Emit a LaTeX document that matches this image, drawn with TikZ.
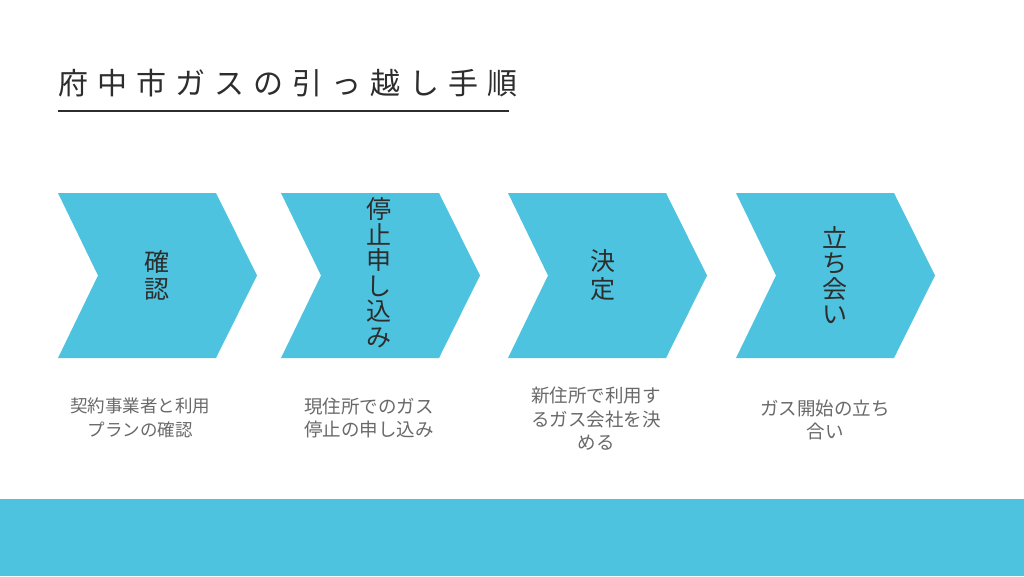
\documentclass[tikz,border=0pt]{standalone}
\usepackage{fontspec}
\newfontfamily\jp{Noto Sans CJK JP}
\newfontfamily\jpt[LetterSpace=30]{Noto Sans CJK JP}
\definecolor{chev}{RGB}{78,195,223}
\definecolor{darktxt}{RGB}{45,45,45}
\definecolor{graytxt}{RGB}{105,105,105}
\begin{document}
\begin{tikzpicture}[x=1pt,y=-1pt,
  chevshape/.style={fill=chev,draw=none},
  steplabel/.style={inner sep=0pt,align=center,text=darktxt,font=\jp\fontsize{25pt}{27pt}\selectfont},
  desclabel/.style={inner sep=0pt,align=center,text=graytxt,font=\jp\fontsize{18.5pt}{23.5pt}\selectfont},
]
\useasboundingbox (0,0) rectangle (1024,576);
\fill[white] (0,0) rectangle (1024,576);
% title
\node[inner sep=0pt,anchor=west,text=darktxt,font=\jpt\fontsize{30pt}{32pt}\selectfont] (title) at (58,83) {府中市ガスの引っ越し手順};
\coordinate (ulA) at (58,111);
\coordinate (ulB) at (509,111);
\draw[line width=2.5pt,color=darktxt] (ulA) -- (ulB);
% chevrons
\foreach \x in {58,281,508,736}{
  \fill[chevshape] (\x,193) -- (\x+158,193) -- (\x+199,275.5) -- (\x+158,358) -- (\x,358) -- (\x+40,275.5) -- cycle;
}
% step labels
\node[steplabel] (s1) at (157,275) {確\\認};
\node[steplabel,font=\jp\fontsize{25pt}{25.5pt}\selectfont] (s2) at (379,273) {停\\止\\申\\し\\込\\み};
\node[steplabel,font=\jp\fontsize{25pt}{28pt}\selectfont] (s3) at (603,275) {決\\定};
\node[steplabel,font=\jp\fontsize{25pt}{25.5pt}\selectfont] (s4) at (835,275) {立\\ち\\会\\い};
% descriptions
\node[desclabel,font=\jp\fontsize{17.5pt}{23.5pt}\selectfont] (d1) at (140,418) {契約事業者と利用\\プランの確認};
\node[desclabel] (d2) at (369,418) {現住所でのガス\\停止の申し込み};
\node[desclabel] (d3) at (596,419) {新住所で利用す\\るガス会社を決\\める};
\node[desclabel] (d4) at (825,420) {ガス開始の立ち\\合い};
% bottom band
\fill[chev] (0,499) rectangle (1024,576);
\end{tikzpicture}
\end{document}
